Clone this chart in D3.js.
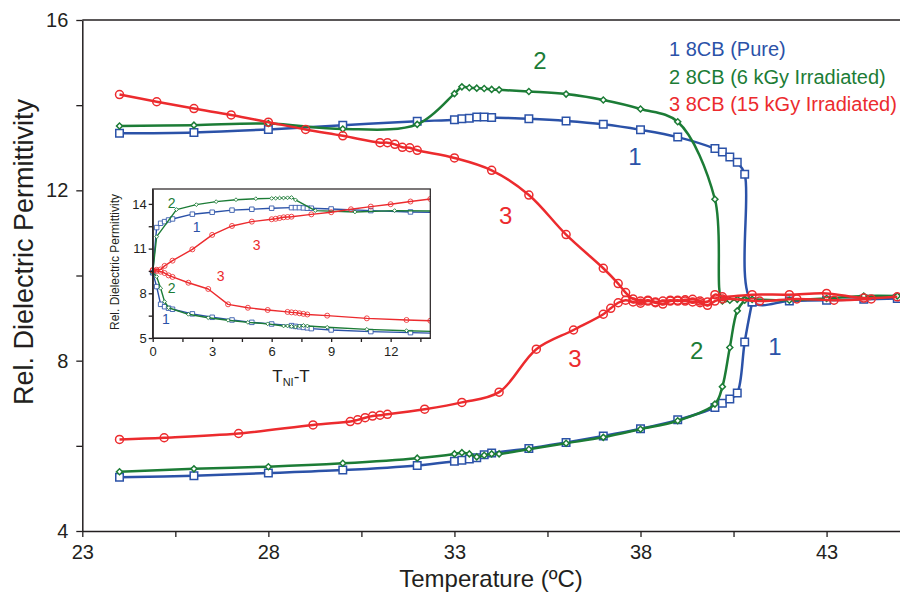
<!DOCTYPE html>
<html>
<head>
<meta charset="utf-8">
<script src="https://cdnjs.cloudflare.com/ajax/libs/d3/7.8.5/d3.min.js"></script>
<style>
body { margin: 0; background: #fff; }
svg { display: block; font-family: "Liberation Sans", Arial, Helvetica, sans-serif; }
</style>
</head>
<body>
<svg id="chart" width="900" height="594"></svg>
<script>
// ---- main plot: permittivity vs temperature ----
var blueHighT = [24, 26, 28, 30, 32, 33, 33.2, 33.4, 33.6, 33.8, 34, 35, 36, 37, 38, 39, 40, 40.2, 40.4, 40.6, 40.8, 41, 42, 43, 44, 44.9];
var blueHighV = [13.34, 13.36, 13.43, 13.53, 13.62, 13.66, 13.68, 13.69, 13.72, 13.72, 13.71, 13.68, 13.63, 13.55, 13.42, 13.25, 12.98, 12.9, 12.78, 12.66, 12.38, 9.38, 9.4, 9.42, 9.44, 9.46];
var blueLowT = [24, 26, 28, 30, 32, 33, 33.2, 33.4, 33.6, 33.8, 34, 35, 36, 37, 38, 39, 40, 40.2, 40.4, 40.6, 40.8, 41];
var blueLowV = [5.26, 5.3, 5.36, 5.43, 5.54, 5.64, 5.66, 5.69, 5.72, 5.79, 5.83, 5.94, 6.08, 6.23, 6.4, 6.61, 6.9, 7.0, 7.1, 7.24, 8.44, 9.38];

var greenHighT = [24, 26, 28, 30, 32, 33, 33.2, 33.4, 33.6, 33.8, 34, 34.2, 35, 36, 37, 38, 39, 40, 40.2, 40.4, 40.6, 40.8, 41, 42, 43, 44, 44.9];
var greenHighV = [13.51, 13.53, 13.57, 13.44, 13.55, 14.27, 14.43, 14.41, 14.4, 14.39, 14.37, 14.36, 14.32, 14.26, 14.12, 13.91, 13.61, 11.79, 9.4, 9.42, 9.44, 9.45, 9.44, 9.42, 9.46, 9.52, 9.52];
var greenLowT = [24, 26, 28, 30, 32, 33, 33.2, 33.4, 33.6, 33.8, 34, 34.2, 35, 36, 37, 38, 39, 40, 40.2, 40.4, 40.6, 40.8];
var greenLowV = [5.39, 5.46, 5.51, 5.59, 5.71, 5.81, 5.84, 5.81, 5.74, 5.78, 5.81, 5.81, 5.92, 6.06, 6.2, 6.39, 6.59, 6.98, 7.39, 8.31, 9.17, 9.42];

var redHighT = [24, 25, 26, 27, 28, 29, 30, 31, 31.2, 31.4, 31.6, 31.8, 32, 33, 34, 35, 36, 37, 37.4, 37.6, 37.8, 38, 38.2, 38.4, 38.6, 38.8, 39, 39.2, 39.4, 39.6, 39.8, 40, 40.2, 41, 42, 43, 44, 44.9];
var redHighV = [14.25, 14.08, 13.92, 13.77, 13.6, 13.43, 13.28, 13.12, 13.12, 13.08, 13.01, 13.0, 12.94, 12.76, 12.47, 11.89, 10.96, 10.17, 9.81, 9.6, 9.45, 9.4, 9.42, 9.38, 9.4, 9.42, 9.4, 9.43, 9.44, 9.4, 9.38, 9.55, 9.5, 9.55, 9.55, 9.58, 9.47, 9.5];
var redLowT = [24, 25.2, 27.2, 29.2, 30.2, 30.4, 30.6, 30.8, 31, 31.2, 32.2, 33.2, 34.2, 35.2, 36.2, 37, 37.2, 37.4, 37.6, 37.8, 38, 38.2, 38.4, 38.6, 38.8, 39, 39.2, 39.4, 39.6, 39.8, 40, 40.2, 41.2, 42.2, 43.2, 44.2];
var redLowV = [6.15, 6.19, 6.29, 6.49, 6.57, 6.61, 6.66, 6.7, 6.72, 6.74, 6.86, 7.02, 7.26, 8.27, 8.72, 9.09, 9.23, 9.36, 9.42, 9.38, 9.35, 9.4, 9.36, 9.33, 9.4, 9.42, 9.4, 9.38, 9.36, 9.3, 9.4, 9.45, 9.4, 9.45, 9.42, 9.45];

// ---- inset: permittivity vs T_NI - T ----
var inBlueHighT = [0, 0.2, 0.4, 0.6, 0.8, 1, 2, 3, 4, 5, 6, 7, 7.2, 7.4, 7.6, 7.8, 8, 9, 11, 13, 15];
var inBlueHighV = [9.39, 12.41, 12.7, 12.81, 12.92, 12.99, 13.31, 13.44, 13.58, 13.64, 13.71, 13.75, 13.75, 13.75, 13.73, 13.71, 13.71, 13.66, 13.55, 13.46, 13.4];
var inBlueLowT = [0, 0.2, 0.4, 0.6, 0.8, 1, 2, 3, 4, 5, 6, 7, 7.2, 7.4, 7.6, 7.8, 8, 9, 11, 13, 15];
var inBlueLowV = [9.39, 8.45, 7.26, 7.1, 7.0, 6.93, 6.62, 6.39, 6.21, 6.05, 5.94, 5.83, 5.78, 5.75, 5.71, 5.68, 5.63, 5.54, 5.43, 5.36, 5.3];
var inGreenHighT = [0, 0.2, 1.2, 2.2, 3.2, 4.2, 5.2, 6, 6.2, 6.4, 6.6, 6.8, 7, 7.2, 8.2, 10.2, 12.2, 14.2];
var inGreenHighV = [9.4, 11.8, 13.62, 13.95, 14.15, 14.28, 14.35, 14.37, 14.38, 14.39, 14.4, 14.41, 14.43, 14.27, 13.55, 13.46, 13.55, 13.52];
var inGreenLowT = [0, 0.2, 0.4, 0.6, 0.8, 1.8, 2.8, 3.8, 4.8, 5.8, 6.6, 6.8, 7, 7.2, 7.4, 7.6, 7.8, 8.8, 10.8, 12.8, 14.8];
var inGreenLowV = [9.4, 9.12, 8.34, 7.44, 7.03, 6.59, 6.36, 6.19, 6.05, 5.95, 5.81, 5.81, 5.78, 5.74, 5.81, 5.84, 5.81, 5.72, 5.58, 5.49, 5.42];
var inRedHighT = [0, 0.2, 0.4, 0.6, 1, 2, 3, 4, 5, 6, 6.2, 6.4, 6.6, 6.8, 7, 8, 9, 10, 11, 12, 13, 14];
var inRedHighV = [9.55, 9.58, 9.6, 9.84, 10.19, 10.95, 11.92, 12.52, 12.81, 12.97, 13.0, 13.05, 13.1, 13.12, 13.14, 13.3, 13.44, 13.64, 13.82, 13.98, 14.16, 14.33];
var inRedLowT = [0, 0.2, 0.4, 0.6, 0.8, 1, 1.8, 2.8, 3.8, 4.8, 5.8, 6.8, 7, 7.2, 7.4, 7.6, 7.8, 8.8, 10.8, 12.8, 14];
var inRedLowV = [9.55, 9.5, 9.45, 9.36, 9.2, 9.1, 8.71, 8.29, 7.26, 7.03, 6.88, 6.75, 6.72, 6.7, 6.66, 6.62, 6.58, 6.5, 6.32, 6.21, 6.16];

var xTicks = [23, 25.5, 28, 30.5, 33, 35.5, 38, 40.5, 43];
var xLabels = [23, 28, 33, 38, 43];
var yTicks = [4, 6, 8, 10, 12, 14, 16];
var yLabels = [4, 8, 12, 16];
var inXTicks = [0, 1.5, 3, 4.5, 6, 7.5, 9, 10.5, 12, 13.5];
var inXLabels = [0, 3, 6, 9, 12];
var inYTicks = [5, 6.5, 8, 9.5, 11, 12.5, 14];
var inYLabels = [5, 8, 11, 14];

var legendNames = ["1 8CB (Pure)", "2 8CB (6 kGy Irradiated)", "3 8CB (15 kGy Irradiated)"];

var BLUE = "#2b52a8", GREEN = "#1c7c36", RED = "#ec2b2e", AXIS = "#231f20";

// curve number tags, placed in data units
var mainTags = [
    {s: "2", t: 35.3, v: 15.06, c: GREEN},
    {s: "1", t: 37.85, v: 12.8, c: BLUE},
    {s: "3", t: 34.38, v: 11.42, c: RED},
    {s: "3", t: 36.24, v: 8.06, c: RED},
    {s: "2", t: 39.51, v: 8.25, c: GREEN},
    {s: "1", t: 41.61, v: 8.34, c: BLUE}
];
var insetTags = [
    {s: "2", t: 0.96, v: 14.05, c: GREEN},
    {s: "1", t: 2.22, v: 12.47, c: BLUE},
    {s: "3", t: 5.24, v: 11.25, c: RED},
    {s: "3", t: 3.43, v: 9.18, c: RED},
    {s: "2", t: 0.96, v: 8.34, c: GREEN},
    {s: "1", t: 0.66, v: 6.26, c: BLUE}
];

var svg = d3.select("#chart");

var x = d3.scaleLinear().domain([23, 45]).range([82.3, 901]);
var y = d3.scaleLinear().domain([4, 16]).range([531, 20]);

function pick(list) {
    return function (d) {
        return list.indexOf(d) >= 0 ? d : "";
    };
}

function styleAxis(g, fontSize) {
    g.selectAll("path.domain").attr("stroke", AXIS).attr("stroke-width", 1.5);
    g.selectAll(".tick line").attr("stroke", AXIS).attr("stroke-width", 1.3);
    g.selectAll(".tick text").attr("fill", AXIS).style("font-size", fontSize + "px")
        .style("font-family", "\"Liberation Sans\", Arial, sans-serif");
}

/***
 * Draws one branch: line then its markers
 */
function drawBranch(g, xs, ys, ts, vs, color, marker, curve, lw, ms) {
    var pts = d3.zip(ts, vs);
    var line = d3.line()
        .x(function (d) { return xs(d[0]); })
        .y(function (d) { return ys(d[1]); })
        .curve(curve);

    g.append("path")
        .datum(pts)
        .attr("d", line)
        .attr("fill", "none")
        .attr("stroke", color)
        .attr("stroke-width", lw)
        .attr("stroke-linejoin", "round");

    var sel = g.append("g").selectAll("path")
        .data(pts)
        .enter()
        .append("path")
        .attr("stroke", color)
        .attr("stroke-width", lw * 0.6);

    if (marker == "square") {
        sel.attr("d", d3.symbol().type(d3.symbolSquare).size(ms * ms))
            .attr("fill", "#fff")
            .attr("transform", function (d) { return "translate(" + xs(d[0]) + "," + ys(d[1]) + ")"; });
    } else if (marker == "diamond") {
        sel.attr("d", d3.symbol().type(d3.symbolSquare).size(ms * ms * 0.5))
            .attr("fill", "#fff")
            .attr("transform", function (d) { return "translate(" + xs(d[0]) + "," + ys(d[1]) + ") rotate(45)"; });
    } else {
        sel.attr("d", d3.symbol().type(d3.symbolCircle).size(Math.PI * ms * ms / 4))
            .attr("fill", "none")
            .attr("transform", function (d) { return "translate(" + xs(d[0]) + "," + ys(d[1]) + ")"; });
    }
}

// ---- main axes ----
var gx = svg.append("g")
    .attr("transform", "translate(0," + y(4) + ")")
    .call(d3.axisBottom(x).tickValues(xTicks).tickSize(6).tickSizeOuter(0).tickPadding(8).tickFormat(pick(xLabels)));
styleAxis(gx, 20);

var gy = svg.append("g")
    .attr("transform", "translate(" + x(23) + ",0)")
    .call(d3.axisLeft(y).tickValues(yTicks).tickSize(6).tickSizeOuter(0).tickPadding(8).tickFormat(pick(yLabels)));
styleAxis(gy, 20);

// top border of frame
svg.append("line")
    .attr("x1", x(23)).attr("x2", 900)
    .attr("y1", y(16)).attr("y2", y(16))
    .attr("stroke", AXIS).attr("stroke-width", 1.5);

svg.append("text")
    .attr("x", 491).attr("y", 587)
    .attr("text-anchor", "middle")
    .attr("fill", AXIS)
    .style("font-size", "24px")
    .text("Temperature (\u00baC)");

svg.append("text")
    .attr("transform", "translate(33," + 252 + ") rotate(-90)")
    .attr("text-anchor", "middle")
    .attr("fill", AXIS)
    .style("font-size", "27px")
    .text("Rel. Dielectric Permittivity");

// ---- main series ----
var gMain = svg.append("g");
var smooth = d3.curveCatmullRom.alpha(0.5);
drawBranch(gMain, x, y, blueHighT, blueHighV, BLUE, "square", smooth, 2.5, 7.5);
drawBranch(gMain, x, y, blueLowT, blueLowV, BLUE, "square", smooth, 2.5, 7.5);
drawBranch(gMain, x, y, greenHighT, greenHighV, GREEN, "diamond", smooth, 2.5, 6);
drawBranch(gMain, x, y, greenLowT, greenLowV, GREEN, "diamond", smooth, 2.5, 6);
drawBranch(gMain, x, y, redHighT, redHighV, RED, "circle", smooth, 2.5, 8);
drawBranch(gMain, x, y, redLowT, redLowV, RED, "circle", smooth, 2.5, 8);

gMain.selectAll("text.tag")
    .data(mainTags)
    .enter()
    .append("text")
    .attr("class", "tag")
    .attr("x", function (d) { return x(d.t); })
    .attr("y", function (d) { return y(d.v); })
    .attr("dy", "0.36em")
    .attr("text-anchor", "middle")
    .attr("fill", function (d) { return d.c; })
    .style("font-size", "24px")
    .text(function (d) { return d.s; });

// legend
svg.append("g").selectAll("text")
    .data(legendNames)
    .enter()
    .append("text")
    .attr("x", 669)
    .attr("y", function (d, i) { return 56 + i * 27.5; })
    .attr("fill", function (d, i) { return [BLUE, GREEN, RED][i]; })
    .style("font-size", "20px")
    .text(function (d) { return d; });

// ---- inset ----
var xi = d3.scaleLinear().domain([0, 14]).range([152.7, 430.3]);
var yi = d3.scaleLinear().domain([5, 15]).range([338, 189]);

var gIn = svg.append("g");
gIn.append("rect")
    .attr("x", xi(0)).attr("y", yi(15))
    .attr("width", xi(14) - xi(0)).attr("height", yi(5) - yi(15))
    .attr("fill", "#fff");

gIn.append("clipPath").attr("id", "inclip")
    .append("rect")
    .attr("x", xi(0) - 4).attr("y", yi(15))
    .attr("width", xi(14) - xi(0) + 4).attr("height", yi(5) - yi(15) + 4);

var gInData = gIn.append("g").attr("clip-path", "url(#inclip)");
drawBranch(gInData, xi, yi, inBlueHighT, inBlueHighV, BLUE, "square", d3.curveLinear, 1.4, 4.5);
drawBranch(gInData, xi, yi, inBlueLowT, inBlueLowV, BLUE, "square", d3.curveLinear, 1.4, 4.5);
drawBranch(gInData, xi, yi, inGreenHighT, inGreenHighV, GREEN, "diamond", d3.curveLinear, 1.4, 3.8);
drawBranch(gInData, xi, yi, inGreenLowT, inGreenLowV, GREEN, "diamond", d3.curveLinear, 1.4, 3.8);
drawBranch(gInData, xi, yi, inRedHighT, inRedHighV, RED, "circle", d3.curveLinear, 1.4, 5);
drawBranch(gInData, xi, yi, inRedLowT, inRedLowV, RED, "circle", d3.curveLinear, 1.4, 5);

gIn.append("rect")
    .attr("x", xi(0)).attr("y", yi(15))
    .attr("width", xi(14) - xi(0)).attr("height", yi(5) - yi(15))
    .attr("fill", "none")
    .attr("stroke", AXIS)
    .attr("stroke-width", 1.2);

var gix = gIn.append("g")
    .attr("transform", "translate(0," + yi(5) + ")")
    .call(d3.axisBottom(xi).tickValues(inXTicks).tickSize(4).tickSizeOuter(0).tickPadding(5).tickFormat(pick(inXLabels)));
styleAxis(gix, 13);
gix.select("path.domain").attr("stroke-width", 1.2);

var giy = gIn.append("g")
    .attr("transform", "translate(" + xi(0) + ",0)")
    .call(d3.axisLeft(yi).tickValues(inYTicks).tickSize(4).tickSizeOuter(0).tickPadding(2).tickFormat(pick(inYLabels)));
styleAxis(giy, 13);
giy.select("path.domain").attr("stroke-width", 1.2);

gIn.selectAll("text.itag")
    .data(insetTags)
    .enter()
    .append("text")
    .attr("class", "itag")
    .attr("x", function (d) { return xi(d.t); })
    .attr("y", function (d) { return yi(d.v); })
    .attr("dy", "0.36em")
    .attr("text-anchor", "middle")
    .attr("fill", function (d) { return d.c; })
    .style("font-size", "14px")
    .text(function (d) { return d.s; });

var tl = gIn.append("text")
    .attr("x", 291).attr("y", 382)
    .attr("text-anchor", "middle")
    .attr("fill", AXIS)
    .style("font-size", "17px");
tl.append("tspan").text("T");
tl.append("tspan").attr("dy", 4).style("font-size", "11px").text("NI");
tl.append("tspan").attr("dy", -4).text("-T");

gIn.append("text")
    .attr("transform", "translate(119," + 262 + ") rotate(-90)")
    .attr("text-anchor", "middle")
    .attr("fill", AXIS)
    .style("font-size", "12px")
    .text("Rel. Dielectric Permittivity");
</script>
</body>
</html>
